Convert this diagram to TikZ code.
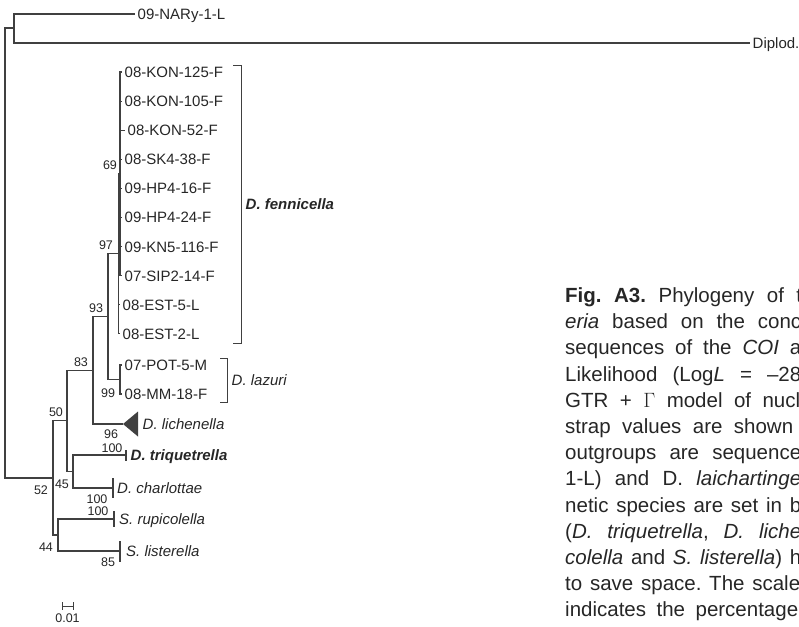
\documentclass[tikz,border=0pt]{standalone}
\usepackage{fontspec}
\setmainfont{Liberation Sans}
\usepackage{tikz}
\usetikzlibrary{positioning}
\definecolor{treeline}{gray}{0.25}
\definecolor{treetext}{gray}{0.15}
\tikzset{
  branch/.style={
    draw=treeline,
    line width=1.1pt
  },
  tiplabel/.style={
    anchor=west,
    inner xsep=2.5pt,
    inner ysep=0pt,
    text height=10.8pt,
    text depth=0pt,
    text=treetext,
    font=\fontsize{15}{17}\selectfont
  },
  taxonlabel/.style={
    tiplabel,
    font=\fontsize{15}{17}\selectfont\itshape
  },
  boldtaxon/.style={
    tiplabel,
    font=\fontsize{15}{17}\selectfont\bfseries\itshape
  },
  support/.style={
    inner sep=0pt,
    text=treetext,
    font=\fontsize{12.5}{14}\selectfont
  },
  bracket/.style={
    draw=treeline,
    line width=0.9pt
  },
  capline/.style={
    anchor=base west,
    inner sep=0pt,
    text=treetext,
    font=\fontsize{20.5}{26}\selectfont
  }
}

\begin{document}
\frenchspacing
\begin{tikzpicture}[x=1pt, y=-1pt]
  \useasboundingbox (0,0) rectangle (799,626);
  \clip (0,0) rectangle (799,626);

  % INTERNAL NODES
  \coordinate (root) at (5,253);
  \coordinate (nout) at (14,28);
  \coordinate (n52) at (53,478);
  \coordinate (n50) at (67,420.9);
  \coordinate (n45) at (73,471.5);
  \coordinate (n44) at (58,535);
  \coordinate (n83) at (93,370.4);
  \coordinate (n93) at (108,316.7);
  \coordinate (n97) at (118.5,253.9);
  \coordinate (n69) at (120,173.9);
  \coordinate (n99) at (120,379.5);

  % OUTGROUPS
  \coordinate (nary) at (135,14);
  \coordinate (dipl) at (750,43);
  \draw[branch] (root) |- (nout);
  \draw[branch] (root) |- (n52);
  \draw[branch] (nout) |- (nary);
  \draw[branch] (nout) |- (dipl);
  \node[tiplabel] (nary-l) at (nary) {09-NARy-1-L};
  \node[tiplabel] (dipl-l) at (dipl) {Diplod.};

  % D. FENNICELLA
  \foreach \tname/\tx/\tlab [count=\i from 0] in {k125/122/08-KON-125-F, k105/122/08-KON-105-F, k52/125/08-KON-52-F, sk438/122/08-SK4-38-F, hp416/122/09-HP4-16-F, hp424/122/09-HP4-24-F, kn5116/122/09-KN5-116-F, sip214/122/07-SIP2-14-F}{
    \coordinate (\tname) at (\tx,{72+29.1*\i});
    \draw[branch] (n69) |- (\tname);
    \node[tiplabel] (\tname-l) at (\tname) {\tlab};
  }
  \coordinate (est5) at (120,304.8);
  \coordinate (est2) at (120,333.9);
  \draw[branch] (n97) |- (n69);
  \draw[branch] (n97) |- (est5);
  \draw[branch] (n97) |- (est2);
  \node[tiplabel] (est5-l) at (est5) {08-EST-5-L};
  \node[tiplabel] (est2-l) at (est2) {08-EST-2-L};

  % D. LAZURI
  \coordinate (pot5) at (122,365);
  \coordinate (mm18) at (122,394);
  \draw[branch] (n99) |- (pot5);
  \draw[branch] (n99) |- (mm18);
  \node[tiplabel] (pot5-l) at (pot5) {07-POT-5-M};
  \node[tiplabel] (mm18-l) at (mm18) {08-MM-18-F};

  \draw[branch] (n93) |- (n97);
  \draw[branch] (n93) |- (n99);
  \draw[branch] (n83) |- (n93);

  % D. LICHENELLA
  \coordinate (lich) at (123,424);
  \draw[branch] (n83) |- (lich);
  \fill[treeline] (lich) -- ++(15,-12.5) -- ++(0,25) -- cycle;
  \node[taxonlabel] (lich-l) at ([xshift=17pt]lich) {D. lichenella};

  \draw[branch] (n50) |- (n83);
  \draw[branch] (n50) |- (n45);

  % D. TRIQUETRELLA, D. CHARLOTTAE
  \coordinate (triq) at (126,455);
  \coordinate (charl) at (113,488);
  \draw[branch] (n45) |- (triq);
  \draw[branch] (n45) |- (charl);
  \draw[branch] ([yshift=5pt]triq) -- ([yshift=-6pt]triq);
  \draw[branch] ([yshift=10pt]charl) -- ([yshift=-10pt]charl);
  \node[boldtaxon] (triq-l) at ([xshift=2pt]triq) {D. triquetrella};
  \node[taxonlabel] (charl-l) at ([xshift=1.5pt]charl) {D. charlottae};

  \draw[branch] (n52) |- (n50);
  \draw[branch] (n52) |- (n44);

  % SCYTHROPIA
  \coordinate (rupi) at (114,519);
  \coordinate (list) at (120,551);
  \draw[branch] (n44) |- (rupi);
  \draw[branch] (n44) |- (list);
  \draw[branch] ([yshift=8pt]rupi) -- ([yshift=-8pt]rupi);
  \draw[branch] ([yshift=10pt]list) -- ([yshift=-11pt]list);
  \node[taxonlabel] (rupi-l) at ([xshift=2.5pt]rupi) {S. rupicolella};
  \node[taxonlabel] (list-l) at ([xshift=3.5pt]list) {S. listerella};

  % SUPPORT VALUES
  \node[support] (b69) at (110,165) {69};
  \node[support] (b97) at (106,245) {97};
  \node[support] (b93) at (96,308) {93};
  \node[support] (b83) at (81,362) {83};
  \node[support] (b99) at (108,393) {99};
  \node[support] (b50) at (56,412) {50};
  \node[support] (b96) at (111,434) {96};
  \node[support] (b100t) at (112,448) {100};
  \node[support] (b45) at (62,484) {45};
  \node[support] (b52) at (41,490) {52};
  \node[support] (b100c) at (97,499) {100};
  \node[support] (b100r) at (98,511) {100};
  \node[support] (b44) at (46,547) {44};
  \node[support] (b85) at (108,562) {85};

  % BRACKETS
  \coordinate (fenn-t) at (233,65);
  \coordinate (fenn-b) at (233,343);
  \coordinate (fenn-m) at (241,204);
  \draw[bracket] (fenn-t) -- ++(8,0) |- (fenn-b);
  \node[boldtaxon, right=2pt of fenn-m] (fenn-l) {D. fennicella};

  \coordinate (laz-t) at (220,358);
  \coordinate (laz-b) at (220,402);
  \coordinate (laz-m) at (227,380);
  \draw[bracket] (laz-t) -- ++(7,0) |- (laz-b);
  \node[taxonlabel, right=2pt of laz-m] (laz-l) {D. lazuri};

  % SCALE BAR
  \coordinate (sc-a) at (62,606);
  \coordinate (sc-b) at (73,606);
  \draw[bracket] (sc-a) -- (sc-b);
  \draw[bracket] ([yshift=4pt]sc-a) -- ([yshift=-4pt]sc-a);
  \draw[bracket] ([yshift=4pt]sc-b) -- ([yshift=-4pt]sc-b);
  \node[support] (sc-l) at (67.5,618) {0.01};

  % CAPTION
  \node[capline] (cap1) at (565,302.5) {\makebox[237pt][s]{\textbf{Fig. A3.} Phylogeny of t}};
  \node[capline] (cap2) at (565,328.7) {\makebox[236pt][s]{\textit{eria} based on the conc}};
  \node[capline] (cap3) at (565,354.9) {\makebox[236pt][s]{sequences of the \textit{COI} a}};
  \node[capline] (cap4) at (565,381.1) {\makebox[236pt][s]{Likelihood (Log\textit{L} = –28}};
  \node[capline] (cap5) at (565,407.3) {\makebox[235pt][s]{GTR + $\Gamma$ model of nucl}};
  \node[capline] (cap6) at (565,433.5) {\makebox[228pt][s]{strap values are shown}};
  \node[capline] (cap7) at (565,459.7) {\makebox[236pt][s]{outgroups are sequence}};
  \node[capline] (cap8) at (565,485.9) {\makebox[236pt][s]{1-L) and D. \textit{laichartinge}}};
  \node[capline] (cap9) at (565,512.1) {\makebox[236pt][s]{netic species are set in b}};
  \node[capline] (cap10) at (565,538.3) {\makebox[236pt][s]{(\textit{D. triquetrella}, \textit{D. liche}}};
  \node[capline] (cap11) at (565,564.5) {\makebox[236pt][s]{\textit{colella} and \textit{S. listerella}) h}};
  \node[capline] (cap12) at (565,590.7) {\makebox[235pt][s]{to save space. The scale}};
  \node[capline] (cap13) at (565,616.9) {\makebox[233pt][s]{indicates the percentage}};

\end{tikzpicture}
\end{document}
